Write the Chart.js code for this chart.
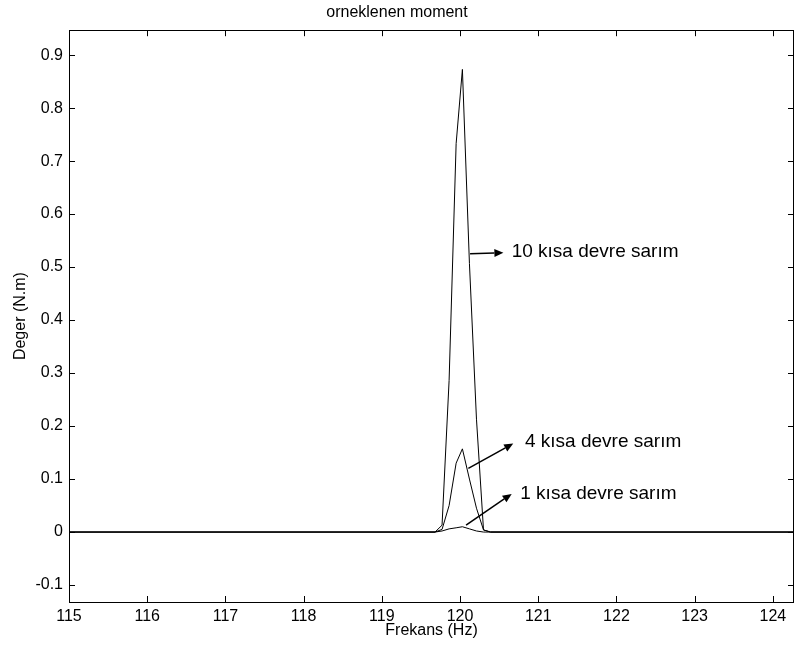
<!DOCTYPE html>
<html>
<head>
<meta charset="utf-8">
<script src="https://cdn.jsdelivr.net/npm/chart.js@4/dist/chart.umd.min.js"></script>
<style>
  html, body { margin: 0; padding: 0; background: #fff; }
  #wrap { width: 795px; height: 650px; }
</style>
</head>
<body>
<div id="wrap"><canvas id="momentChart"></canvas></div>
<script>
// Frequency samples (Hz) and torque values (N.m)
const freq = [115, 119.68, 119.77, 119.86, 119.95, 120.03, 120.12, 120.21, 120.30, 120.39, 124.27];
const moment10 = [0, 0, 0.013, 0.286, 0.733, 0.873, 0.507, 0.213, 0.004, 0, 0];
const moment4 = [0, 0, 0.005, 0.05, 0.13, 0.157, 0.10, 0.045, 0.004, 0, 0];
const moment1 = [0, 0, 0.002, 0.006, 0.008, 0.01, 0.006, 0.002, 0, 0, 0];

const xTicks = [115, 116, 117, 118, 119, 120, 121, 122, 123, 124];
const yTicks = [-0.1, 0, 0.1, 0.2, 0.3, 0.4, 0.5, 0.6, 0.7, 0.8, 0.9];

// Annotation labels: arrow tail, arrow head, text start (data coords)
const labels = ['10 kısa devre sarım', '4 kısa devre sarım', '1 kısa devre sarım'];
const arrowTail = [[120.128, 0.525], [120.106, 0.12], [120.077, 0.013]];
const arrowHead = [[120.554, 0.527], [120.68, 0.167], [120.66, 0.072]];
const textPos = [[120.66, 0.528], [120.83, 0.171], [120.77, 0.073]];

const FONT = '"Liberation Sans", Arial, sans-serif';

function toPoints(ys) {
  return freq.map((f, i) => ({ x: f, y: ys[i] }));
}

// MATLAB-like box with inward ticks + arrow annotations
const boxPlugin = {
  id: 'boxPlugin',
  afterDraw(chart) {
    const { ctx, chartArea: a, scales } = chart;
    const xs = scales.x, ys = scales.y;
    ctx.save();
    ctx.strokeStyle = '#000';
    ctx.lineWidth = 1;
    ctx.strokeRect(Math.round(a.left) + 0.5, Math.round(a.top) + 0.5,
      Math.round(a.right - a.left) - 1, Math.round(a.bottom - a.top));
    const len = 6;
    ctx.beginPath();
    xTicks.forEach((t) => {
      const px = Math.round(xs.getPixelForValue(t)) + 0.5;
      ctx.moveTo(px, a.bottom); ctx.lineTo(px, a.bottom - len);
      ctx.moveTo(px, a.top); ctx.lineTo(px, a.top + len);
    });
    yTicks.forEach((t) => {
      const py = Math.round(ys.getPixelForValue(t)) + 0.5;
      ctx.moveTo(a.left, py); ctx.lineTo(a.left + len, py);
      ctx.moveTo(a.right, py); ctx.lineTo(a.right - len, py);
    });
    ctx.stroke();

    // arrows and labels
    ctx.lineWidth = 1.5;
    ctx.fillStyle = '#000';
    labels.forEach((txt, i) => {
      const x1 = xs.getPixelForValue(arrowTail[i][0]);
      const y1 = ys.getPixelForValue(arrowTail[i][1]);
      const x2 = xs.getPixelForValue(arrowHead[i][0]);
      const y2 = ys.getPixelForValue(arrowHead[i][1]);
      const ang = Math.atan2(y2 - y1, x2 - x1);
      const hl = 9, hw = 4;
      ctx.beginPath();
      ctx.moveTo(x1, y1);
      ctx.lineTo(x2 - hl * Math.cos(ang), y2 - hl * Math.sin(ang));
      ctx.stroke();
      ctx.beginPath();
      ctx.moveTo(x2, y2);
      ctx.lineTo(x2 - hl * Math.cos(ang) + hw * Math.sin(ang), y2 - hl * Math.sin(ang) - hw * Math.cos(ang));
      ctx.lineTo(x2 - hl * Math.cos(ang) - hw * Math.sin(ang), y2 - hl * Math.sin(ang) + hw * Math.cos(ang));
      ctx.closePath();
      ctx.fill();

      ctx.font = '19px ' + FONT;
      ctx.textBaseline = 'middle';
      ctx.textAlign = 'left';
      ctx.fillText(txt, xs.getPixelForValue(textPos[i][0]), ys.getPixelForValue(textPos[i][1]));
    });
    ctx.restore();
  },
};

const lineStyle = {
  borderColor: '#000',
  borderWidth: 1,
  pointRadius: 0,
  tension: 0,
  fill: false,
};

new Chart(document.getElementById('momentChart'), {
  type: 'line',
  data: {
    datasets: [
      { label: '10 kısa devre sarım', data: toPoints(moment10), ...lineStyle },
      { label: '4 kısa devre sarım', data: toPoints(moment4), ...lineStyle },
      { label: '1 kısa devre sarım', data: toPoints(moment1), ...lineStyle },
    ],
  },
  options: {
    responsive: true,
    maintainAspectRatio: false,
    animation: false,
    layout: { padding: { right: 1, left: 0, top: 0, bottom: 0 } },
    plugins: {
      legend: { display: false },
      tooltip: { enabled: false },
      title: {
        display: true,
        text: 'orneklenen moment',
        color: '#000',
        font: { family: FONT, size: 16, weight: 'normal' },
        padding: { top: 3, bottom: 8 },
      },
    },
    scales: {
      x: {
        type: 'linear',
        min: 115,
        max: 124.27,
        afterFit(scale) { scale.height = 48; },
        afterBuildTicks(scale) { scale.ticks = xTicks.map((v) => ({ value: v })); },
        grid: { display: false, drawTicks: false },
        border: { display: false },
        ticks: {
          color: '#000',
          padding: 5,
          font: { family: FONT, size: 16 },
          callback: (v) => String(v),
        },
        title: {
          display: true,
          text: 'Frekans (Hz)',
          color: '#000',
          font: { family: FONT, size: 16 },
          padding: { top: 0, bottom: 10 },
        },
      },
      y: {
        min: -0.132,
        max: 0.947,
        afterFit(scale) { scale.width = 69; },
        afterBuildTicks(scale) { scale.ticks = yTicks.map((v) => ({ value: v })); },
        grid: { display: false, drawTicks: false },
        border: { display: false },
        ticks: {
          color: '#000',
          padding: 6,
          font: { family: FONT, size: 16 },
          callback: (v) => String(Number(v.toFixed(1))),
        },
        title: {
          display: true,
          text: 'Deger (N.m)',
          color: '#000',
          font: { family: FONT, size: 16 },
          padding: { top: 11, bottom: 0 },
        },
      },
    },
  },
  plugins: [boxPlugin],
});
</script>
</body>
</html>
